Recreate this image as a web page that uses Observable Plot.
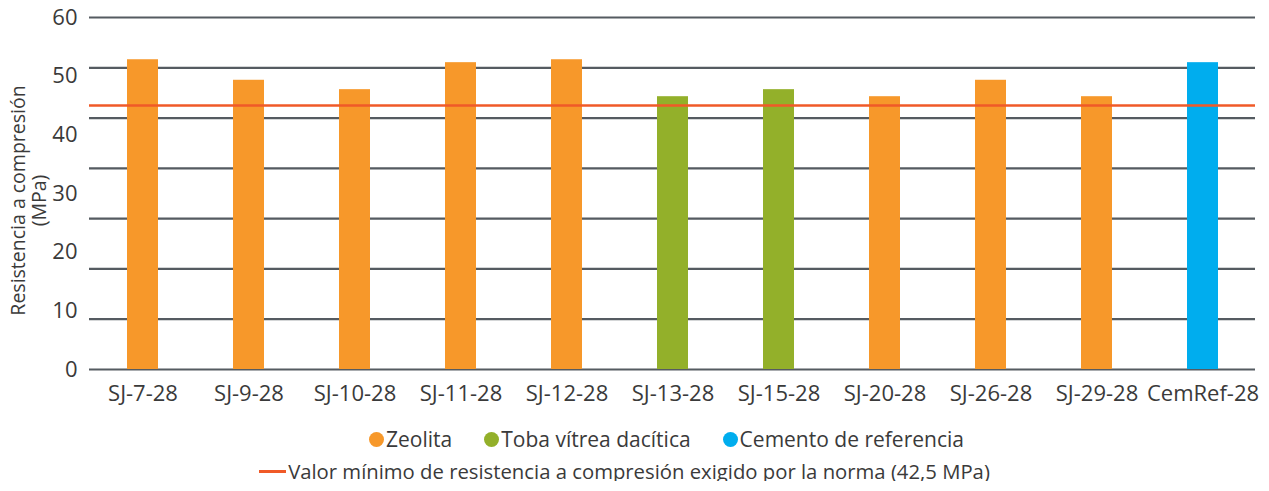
<!DOCTYPE html>
<html>
<head>
<meta charset="utf-8">
<script src="https://cdn.jsdelivr.net/npm/d3@7"></script>
<script src="https://cdn.jsdelivr.net/npm/@observablehq/plot@0.6"></script>
<style>
  body { margin: 0; background: #fff; font-family: "Open Sans", sans-serif; color: #3a3a3a; }
  #chart svg { display: block; }
  .legend { line-height: 1; white-space: nowrap; display: flex; justify-content: center; align-items: center; }
  .row1 { font-size: 21px; margin-top: 19px; padding-left: 64px; }
  .row2 { font-size: 20.3px; margin-top: 11px; padding-right: 20px; }
  .item { display: inline-flex; align-items: center; margin: 0 16px; }
  .row2 .item { margin: 0; }
  .dot { display: inline-block; width: 15px; height: 15px; border-radius: 50%; margin-right: 2px; }
  .line { display: inline-block; width: 27px; height: 3px; background: #f05a28; margin-right: 2px; }
</style>
</head>
<body>
<div id="chart"></div>
<div class="legend row1" id="leg1"></div>
<div class="legend row2" id="leg2"></div>
<script>
const categories = ["SJ-7-28","SJ-9-28","SJ-10-28","SJ-11-28","SJ-12-28","SJ-13-28","SJ-15-28","SJ-20-28","SJ-26-28","SJ-29-28","CemRef-28"];
const values = [52.8, 49.3, 47.7, 52.3, 52.8, 46.5, 47.7, 46.5, 49.3, 46.5, 52.3];
const groups = ["Zeolita","Zeolita","Zeolita","Zeolita","Zeolita","Toba vítrea dacítica","Toba vítrea dacítica","Zeolita","Zeolita","Zeolita","Cemento de referencia"];
const groupNames = ["Zeolita","Toba vítrea dacítica","Cemento de referencia"];
const groupColors = ["#f7982a","#93b02a","#00adee"];
const yTicks = [0, 10, 20, 30, 40, 50, 60];
const gridValues = [0, 8.57, 17.14, 25.71, 34.29, 42.86, 51.43, 60];
const threshold = [45];
const thresholdLabel = "Valor mínimo de resistencia a compresión exigido por la norma (42,5 MPa)";
const yTitle = "Resistencia a compresión\n(MPa)";

const data = categories.map((c, i) => ({cat: c, value: values[i], group: groups[i]}));

const chart = Plot.plot({
  width: 1269,
  height: 410,
  marginLeft: 89,
  marginRight: 14,
  marginTop: 17,
  marginBottom: 41,
  style: {fontFamily: "Open Sans", fontSize: "22px", color: "#3a3a3a", background: "#fff"},
  x: {domain: categories, paddingInner: 0.708, paddingOuter: 0.354, label: null},
  y: {domain: [0, 60], label: null},
  color: {domain: groupNames, range: groupColors},
  marks: [
    Plot.ruleY(gridValues, {stroke: "#555b61", strokeWidth: 2.2}),
    Plot.barY(data, {x: "cat", y: "value", fill: "group"}),
    Plot.ruleY(threshold, {stroke: "#f05a28", strokeWidth: 2.5}),
    Plot.axisX({tickSize: 0, tickPadding: 16, fontSize: 22, fill: "#3a3a3a"}),
    Plot.axisY({ticks: yTicks, tickSize: 0, tickPadding: 12, fontSize: 22, fill: "#3a3a3a", label: null}),
    Plot.text([yTitle], {frameAnchor: "left", textAnchor: "middle", dx: -61, dy: 7, rotate: -90, fontSize: 19.5, lineHeight: 1.1, fill: "#3a3a3a"})
  ]
});
document.getElementById("chart").appendChild(chart);

const leg1 = document.getElementById("leg1");
groupNames.forEach((g, i) => {
  const it = document.createElement("span");
  it.className = "item";
  it.innerHTML = `<span class="dot" style="background:${groupColors[i]}"></span>${g}`;
  leg1.appendChild(it);
});
const leg2 = document.getElementById("leg2");
const it2 = document.createElement("span");
it2.className = "item";
it2.innerHTML = `<span class="line"></span>${thresholdLabel}`;
leg2.appendChild(it2);
</script>
</body>
</html>
